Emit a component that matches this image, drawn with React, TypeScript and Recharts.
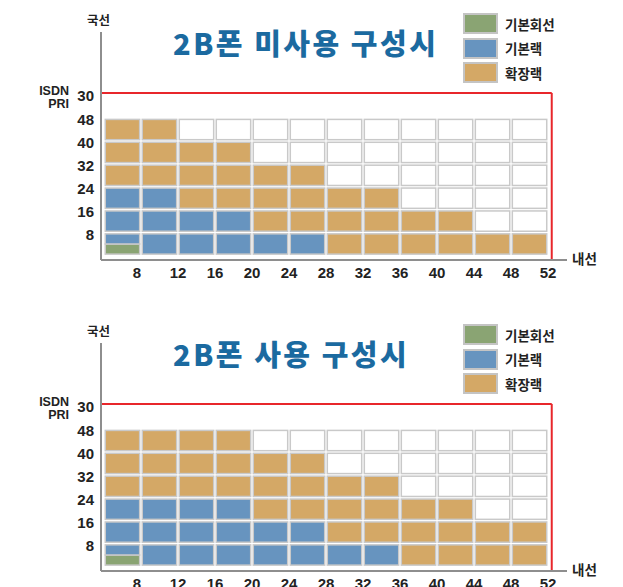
import React from "react";
import { BarChart, Bar, XAxis, YAxis, ReferenceLine } from "recharts";

// 내선 (x) categories and 국선 (y) ticks
const lineLabels = [8, 12, 16, 20, 24, 28, 32, 36, 40, 44, 48, 52];
const trunkTicks = [8, 16, 24, 32, 40, 48];

// 2B폰 미사용 구성시
const unusedBasicLine = [4, 0, 0, 0, 0, 0, 0, 0, 0, 0, 0, 0];
const unusedBasicRack = [20, 24, 16, 16, 8, 8, 0, 0, 0, 0, 0, 0];
const unusedExtRack = [24, 24, 24, 24, 24, 24, 24, 24, 16, 16, 8, 8];

// 2B폰 사용 구성시
const usedBasicLine = [4, 0, 0, 0, 0, 0, 0, 0, 0, 0, 0, 0];
const usedBasicRack = [20, 24, 24, 24, 16, 16, 8, 8, 0, 0, 0, 0];
const usedExtRack = [24, 24, 24, 24, 24, 24, 24, 24, 24, 24, 16, 16];

const legendItems = [
  { name: "기본회선", color: "#8aa473" },
  { name: "기본랙", color: "#6794bf" },
  { name: "확장랙", color: "#d4a866" },
];

const MAX_TRUNK = 48;
const ROW = 8;
const PRI_LABEL = "30";
const PRI_Y = 56.8; // where the ISDN PRI frame sits on the trunk scale
const X_DOMAIN = [3.68, 54.05];
const Y_DOMAIN = [-1.6, 78.1];
const FRAME_RIGHT = 52.4;

const KEYS = ["line", "basic", "ext", "empty"];
const FILLS: Record<string, string> = {
  line: legendItems[0].color,
  basic: legendItems[1].color,
  ext: legendItems[2].color,
  empty: "#ffffff",
};
const INSET = 1.3;
const CELL_STROKE = "#c9c9c9";
const KO = "'Noto Sans CJK KR', sans-serif";
const NUM = "'Liberation Sans', Arial, sans-serif";

function buildData(line: number[], basic: number[], ext: number[]) {
  return lineLabels.map((n, i) => ({
    label: n,
    mid: n - 2,
    line: line[i],
    basic: basic[i],
    ext: ext[i],
    empty: MAX_TRUNK - line[i] - basic[i] - ext[i],
  }));
}

// splits a stacked segment into grid cells of ROW trunks each
function cellShape(key: string) {
  const idx = KEYS.indexOf(key);
  return (props: any) => {
    const { x, y, width, height, payload } = props;
    const val = payload[key];
    if (!val || !height) return <g />;
    const base = KEYS.slice(0, idx).reduce((s, k) => s + payload[k], 0);
    const k = height / val;
    const bottom = y + height;
    const cells = [];
    for (let r = 0; r * ROW < MAX_TRUNK; r++) {
      const lo = Math.max(base, r * ROW);
      const hi = Math.min(base + val, (r + 1) * ROW);
      if (hi <= lo) continue;
      const top = bottom - (hi - base) * k + (hi === (r + 1) * ROW ? INSET : 0);
      const bot = bottom - (lo - base) * k - (lo === r * ROW ? INSET : 0);
      cells.push(
        <rect
          key={r}
          x={x + INSET}
          y={top}
          width={width - 2 * INSET}
          height={bot - top}
          fill={FILLS[key]}
          stroke={CELL_STROKE}
          strokeWidth={1.5}
        />
      );
    }
    return <g>{cells}</g>;
  };
}

const XTick = ({ x, y, payload }: any) => (
  <text
    x={payload.value === lineLabels[0] ? x - 4 : x}
    y={y + 10}
    textAnchor="middle"
    fontFamily={NUM}
    fontWeight="bold"
    fontSize={15}
    fill="#222"
  >
    {payload.value}
  </text>
);

const YTick = ({ x, y, payload }: any) => {
  if (payload.value === PRI_Y) {
    return (
      <g fontFamily={NUM} fontWeight="bold" fill="#222">
        <text x={x + 1} y={y + 8} textAnchor="end" fontSize={15}>
          {PRI_LABEL}
        </text>
        <text x={x - 24} y={y + 2} textAnchor="end" fontSize={12.5}>
          ISDN
        </text>
        <text x={x - 24} y={y + 15} textAnchor="end" fontSize={12.5}>
          PRI
        </text>
      </g>
    );
  }
  return (
    <text x={x + 1} y={y + 7} textAnchor="end" fontFamily={NUM} fontWeight="bold" fontSize={15} fill="#222">
      {payload.value}
    </text>
  );
};

function Panel({ title, data, top }: { title: string; data: any[]; top: number }) {
  return (
    <div style={{ position: "absolute", left: 0, top, width: 623, height: 311 }}>
      <BarChart
        width={623}
        height={311}
        data={data}
        margin={{ top: 32, right: 56, bottom: 0, left: 0 }}
        barCategoryGap={0}
      >
        <XAxis
          type="number"
          dataKey="mid"
          domain={X_DOMAIN}
          allowDataOverflow
          ticks={lineLabels}
          interval={0}
          tick={<XTick />}
          tickLine={false}
          axisLine={{ stroke: "#8e8e8e", strokeWidth: 2 }}
          height={51}
        />
        <YAxis
          type="number"
          domain={Y_DOMAIN}
          allowDataOverflow
          ticks={[...trunkTicks, PRI_Y]}
          interval={0}
          tick={<YTick />}
          tickLine={false}
          axisLine={{ stroke: "#8e8e8e", strokeWidth: 2 }}
          width={101}
        />
        {KEYS.map((key) => (
          <Bar key={key} dataKey={key} stackId="s" shape={cellShape(key)} isAnimationActive={false} />
        ))}
        <ReferenceLine
          segment={[
            { x: X_DOMAIN[0], y: PRI_Y },
            { x: FRAME_RIGHT, y: PRI_Y },
          ]}
          stroke="#e8262b"
          strokeWidth={2}
        />
        <ReferenceLine
          segment={[
            { x: FRAME_RIGHT, y: PRI_Y },
            { x: FRAME_RIGHT, y: Y_DOMAIN[0] },
          ]}
          stroke="#e8262b"
          strokeWidth={2}
        />
      </BarChart>

      <div style={{ position: "absolute", left: 87, top: 14, fontFamily: KO, fontWeight: 700, fontSize: 12.5, color: "#222", lineHeight: 1 }}>
        국선
      </div>
      <div style={{ position: "absolute", left: 572, top: 252, fontFamily: KO, fontWeight: 700, fontSize: 13.5, color: "#222", lineHeight: 1 }}>
        내선
      </div>
      <div
        style={{
          position: "absolute",
          left: 173,
          top: 28,
          fontFamily: KO,
          fontWeight: 900,
          fontSize: 29,
          letterSpacing: 2.5,
          color: "#1b6aa0",
          lineHeight: 1,
          whiteSpace: "nowrap",
        }}
      >
        {title}
      </div>
      {legendItems.map((it, i) => (
        <div key={it.name} style={{ position: "absolute", left: 463, top: 13 + i * 24.5, display: "flex", alignItems: "center" }}>
          <div style={{ width: 31, height: 17, background: it.color, border: "2px solid #c4c4c4" }} />
          <span style={{ marginLeft: 7, fontFamily: KO, fontWeight: 700, fontSize: 13.5, color: "#222" }}>{it.name}</span>
        </div>
      ))}
    </div>
  );
}

export default function App() {
  const unused = buildData(unusedBasicLine, unusedBasicRack, unusedExtRack);
  const used = buildData(usedBasicLine, usedBasicRack, usedExtRack);
  return (
    <div style={{ position: "absolute", left: 0, top: 0, width: 623, height: 622, background: "#fff" }}>
      <Panel title="2B폰 미사용 구성시" data={unused} top={0} />
      <Panel title="2B폰 사용 구성시" data={used} top={311} />
    </div>
  );
}
